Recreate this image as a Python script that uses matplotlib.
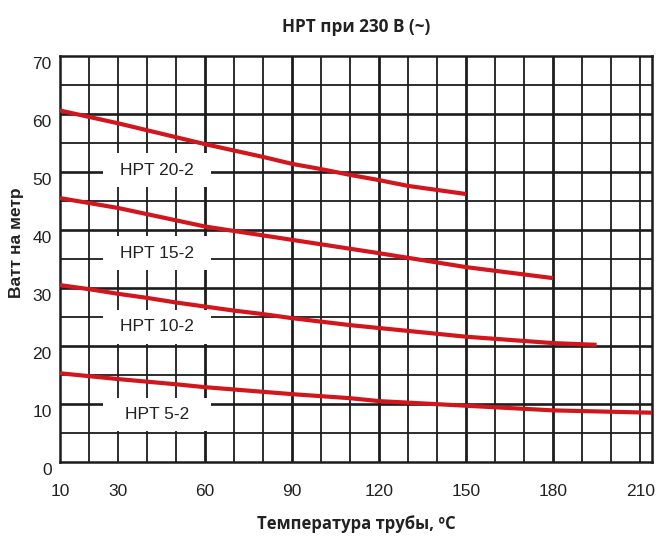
import matplotlib
matplotlib.use("Agg")
import matplotlib.pyplot as plt
from matplotlib.patches import Rectangle
from matplotlib.transforms import ScaledTranslation

# curve data (temperature, watts per metre)
temp_20 = [10, 30, 60, 70, 80, 90, 100, 110, 120, 130, 140, 150]
watt_20 = [60.6, 58.4, 54.8, 53.7, 52.6, 51.4, 50.5, 49.5, 48.6, 47.6, 46.9, 46.2]

temp_15 = [10, 30, 60, 90, 120, 150, 180]
watt_15 = [45.5, 43.8, 40.6, 38.3, 36.0, 33.6, 31.7]

temp_10 = [10, 20, 30, 40, 50, 60, 70, 80, 90, 100, 110, 120, 150, 180, 195]
watt_10 = [30.5, 29.8, 29.0, 28.3, 27.5, 26.8, 26.1, 25.5, 24.8, 24.2, 23.6, 23.1, 21.6, 20.5, 20.2]

temp_5 = [10, 30, 50, 60, 80, 90, 110, 120, 150, 180, 214]
watt_5 = [15.3, 14.3, 13.4, 12.9, 12.1, 11.7, 11.0, 10.5, 9.7, 8.9, 8.5]

curve_names = ["HPT 20-2", "HPT 15-2", "HPT 10-2", "HPT 5-2"]
label_x = [43.5, 43.5, 43.5, 43.5]
label_y = [50.3, 36.0, 23.3, 8.2]

x_ticks = [10, 30, 60, 90, 120, 150, 180, 210]
y_ticks = [0, 10, 20, 30, 40, 50, 60, 70]

RED = "#d2161d"
GRID = "#1c1c1c"
BOX_W = 37   # label box size in data units
BOX_H = 5.8

fig = plt.figure(figsize=(6.59, 5.42), dpi=100)
ax = fig.add_axes([0.091, 0.1476, 0.898, 0.7491])
ax.set_xlim(10, 214)
ax.set_ylim(0, 70)

# grid: thin every 10 / 5, thick every 30 / 10
for x in range(20, 215, 10):
    lw = 2.0 if x % 30 == 0 and 60 <= x <= 180 else 1.3
    ax.axvline(x, color=GRID, lw=lw, zorder=1)
for y in range(5, 70, 5):
    lw = 1.9 if y % 10 == 0 else 1.3
    ax.axhline(y, color=GRID, lw=lw, zorder=1)

for spine in ax.spines.values():
    spine.set_linewidth(1.8)
    spine.set_color(GRID)

# curves
for t, w in [(temp_20, watt_20), (temp_15, watt_15), (temp_10, watt_10), (temp_5, watt_5)]:
    ax.plot(t, w, color=RED, lw=3.0, solid_capstyle="butt", solid_joinstyle="round", zorder=3)

# white label boxes that break the grid
for name, lx, ly in zip(curve_names, label_x, label_y):
    ax.add_patch(Rectangle((lx - BOX_W / 2, ly - BOX_H / 2), BOX_W, BOX_H,
                           facecolor="white", edgecolor="none", zorder=2))
    ax.text(lx, ly, name, ha="center", va="center", fontsize=12.5,
            family="Liberation Sans", color="#222222", zorder=4)

ax.set_xticks(x_ticks)
ax.set_yticks(y_ticks)
ax.tick_params(length=0, labelsize=12.5, labelcolor="#222222")
ax.tick_params(axis="x", pad=16)
ax.tick_params(axis="y", pad=6)
for lab in ax.get_xticklabels() + ax.get_yticklabels():
    lab.set_family("Liberation Sans")
for lab in ax.get_yticklabels():
    lab.set_transform(lab.get_transform() + ScaledTranslation(0, -7 / 100, fig.dpi_scale_trans))

ax.set_title("HPT при 230 B (~)", fontsize=12.3, fontweight="bold",
             family="Open Sans", color="#222222", pad=17)
ax.set_xlabel("Температура трубы, ºC", fontsize=12, fontweight="bold",
              family="Open Sans", color="#222222")
ax.xaxis.set_label_coords(0.5, -0.13)
ax.set_ylabel("Ватт на метр", fontsize=12.5, fontweight="bold",
              family="Liberation Sans", color="#222222")
ax.yaxis.set_label_coords(-0.061, 0.54)

plt.savefig("out.png", dpi=100, facecolor="white")
